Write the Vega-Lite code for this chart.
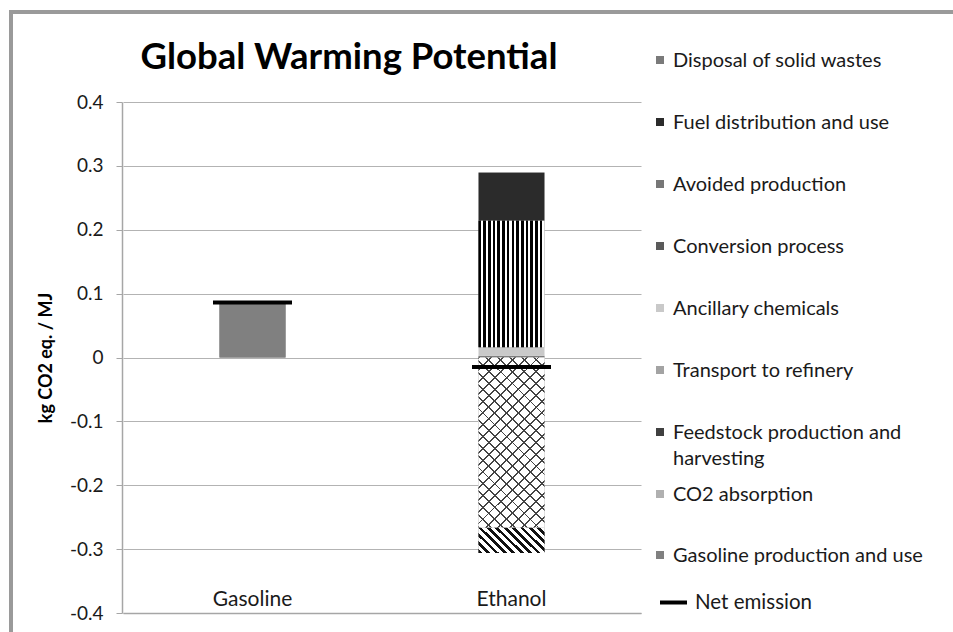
{
  "$schema": "https://vega.github.io/schema/vega-lite/v6.json",
  "width": 942,
  "height": 620,
  "autosize": {"type": "none"},
  "padding": {"left": 11, "top": 12, "right": 0, "bottom": 0},
  "background": "white",
  "config": {
    "view": {"stroke": "#9a9a9a", "strokeWidth": 4, "strokeDash": [942, 1562, 622]},
    "font": "Lato"
  },
  "title": {
    "text": "Global Warming Potential",
    "font": "Lato",
    "fontSize": 36.5,
    "fontWeight": "bold",
    "color": "#000000",
    "anchor": "middle",
    "frame": "group",
    "offset": 0,
    "baseline": "alphabetic",
    "dx": -133,
    "dy": 93
  },
  "resolve": {"scale": {"fill": "independent"}, "legend": {"fill": "independent"}},
  "datasets": {
    "components": [
      {"fuel": "Gasoline", "component": "Gasoline production and use", "value": 0.086, "seq": 0},
      {"fuel": "Ethanol", "component": "CO2 absorption", "value": -0.266, "seq": 1},
      {"fuel": "Ethanol", "component": "Feedstock production and harvesting", "value": 0.002, "seq": 2},
      {"fuel": "Ethanol", "component": "Transport to refinery", "value": 0.001, "seq": 3},
      {"fuel": "Ethanol", "component": "Ancillary chemicals", "value": 0.013, "seq": 4},
      {"fuel": "Ethanol", "component": "Conversion process", "value": 0.198, "seq": 5},
      {"fuel": "Ethanol", "component": "Avoided production", "value": -0.040, "seq": 6},
      {"fuel": "Ethanol", "component": "Fuel distribution and use", "value": 0.075, "seq": 7},
      {"fuel": "Ethanol", "component": "Disposal of solid wastes", "value": 0.001, "seq": 8}
    ],
    "net": [
      {"fuel": "Gasoline", "net": 0.086},
      {"fuel": "Ethanol", "net": -0.015}
    ]
  },
  "layer": [
    {
      "data": {"name": "components"},
      "transform": [
        {"stack": "value", "groupby": ["fuel"], "sort": [{"field": "seq", "order": "ascending"}], "as": ["v0", "v1"]}
      ],
      "mark": {"type": "bar", "width": {"band": 0.255}},
      "encoding": {
        "x": {
          "field": "fuel",
          "type": "nominal",
          "title": null,
          "sort": ["Gasoline", "Ethanol"],
          "scale": {"domain": ["Gasoline", "Ethanol"], "range": [112, 630], "paddingInner": 0, "paddingOuter": 0},
          "axis": {
            "orient": "bottom",
            "offset": -19,
            "domainColor": "#a6a6a6",
            "domainWidth": 1.5,
            "ticks": false,
            "tickSize": 0,
            "labelAngle": 0,
            "labelFont": "Lato",
            "labelFontSize": 21,
            "labelColor": "#1a1a1a",
            "labelBaseline": "alphabetic",
            "labelPadding": -8,
            "grid": false
          }
        },
        "y": {
          "field": "v0",
          "type": "quantitative",
          "title": "kg CO2 eq. / MJ",
          "scale": {"domain": [-0.4, 0.4], "range": [601, 90], "nice": false, "zero": false},
          "axis": {
            "orient": "left",
            "offset": -111,
            "values": [-0.4, -0.3, -0.2, -0.1, 0, 0.1, 0.2, 0.3, 0.4],
            "labelExpr": "datum.value == 0 ? '0' : (datum.value < 0 ? '-' : '') + format(abs(datum.value), '.1f')",
            "labelFont": "Lato",
            "labelFontSize": 19,
            "labelColor": "#1a1a1a",
            "labelPadding": 13,
            "tickSize": 6,
            "tickColor": "#a6a6a6",
            "domainColor": "#a6a6a6",
            "domainWidth": 1.5,
            "grid": true,
            "gridColor": "#b3b3b3",
            "gridWidth": 1.2,
            "titleFont": "Lato",
            "titleFontSize": 18,
            "titleFontWeight": "bold",
            "titleColor": "#000000",
            "titlePadding": 14
          }
        },
        "y2": {"field": "v1"},
        "fill": {
          "field": "component",
          "type": "nominal",
          "scale": {
            "domain": [
              "Disposal of solid wastes",
              "Fuel distribution and use",
              "Avoided production",
              "Conversion process",
              "Ancillary chemicals",
              "Transport to refinery",
              "Feedstock production and harvesting",
              "CO2 absorption",
              "Gasoline production and use"
            ],
            "range": ["#7a7a7a", "#2b2b2b", "#777777", "#5a5a5a", "#c9c9c9", "#a3a3a3", "#404040", "#b0b0b0", "#808080"]
          },
          "legend": {
            "orient": "none",
            "legendX": 639,
            "legendY": 38,
            "title": null,
            "padding": 0,
            "rowPadding": 41,
            "values": [
              "Disposal of solid wastes",
              "Fuel distribution and use",
              "Avoided production",
              "Conversion process",
              "Ancillary chemicals",
              "Transport to refinery",
              "Feedstock production and harvesting"
            ],
            "symbolType": "square",
            "symbolSize": 64,
            "symbolStrokeWidth": 0,
            "symbolOpacity": 1,
            "labelFont": "Lato",
            "labelFontSize": 20,
            "labelColor": "#1a1a1a",
            "labelOffset": 3,
            "labelLimit": 300,
            "labelBaseline": "alphabetic",
            "labelExpr": "datum.label == 'Feedstock production and harvesting' ? ['Feedstock production and', 'harvesting'] : datum.label",
            "encode": {"labels": {"update": {"dy": {"value": 7}, "lineHeight": {"value": 26}}}}
          }
        }
      }
    },
    {
      "data": {"name": "components"},
      "transform": [
        {"stack": "value", "groupby": ["fuel"], "sort": [{"field": "seq", "order": "ascending"}], "as": ["v0", "v1"]},
        {"filter": "datum.component == 'CO2 absorption' || datum.component == 'Gasoline production and use'"}
      ],
      "mark": {"type": "bar", "width": {"band": 0.255}},
      "encoding": {
        "x": {"field": "fuel", "type": "nominal", "title": null},
        "y": {"field": "v0", "type": "quantitative", "title": "kg CO2 eq. / MJ"},
        "y2": {"field": "v1"},
        "fill": {
          "field": "component",
          "type": "nominal",
          "scale": {"domain": ["CO2 absorption", "Gasoline production and use"], "range": ["#b0b0b0", "#808080"]},
          "legend": {
            "orient": "none",
            "legendX": 639,
            "legendY": 472,
            "title": null,
            "padding": 0,
            "rowPadding": 40,
            "symbolType": "square",
            "symbolSize": 64,
            "symbolStrokeWidth": 0,
            "symbolOpacity": 1,
            "labelFont": "Lato",
            "labelFontSize": 20,
            "labelColor": "#1a1a1a",
            "labelOffset": 3,
            "labelLimit": 300,
            "labelBaseline": "alphabetic",
            "encode": {"labels": {"update": {"dy": {"value": 7}}}}
          }
        }
      }
    },
    {
      "data": {"name": "components"},
      "transform": [
        {"stack": "value", "groupby": ["fuel"], "sort": [{"field": "seq", "order": "ascending"}], "as": ["v0", "v1"]},
        {"filter": "datum.component == 'Avoided production'"}
      ],
      "mark": {"type": "bar", "width": {"band": 0.255}, "fill": {"gradient": "linear", "x1": 0, "y1": 1, "x2": 1.2067, "y2": 0.5246, "stops": [
        {"offset": 0, "color": "#111111"}, {"offset": 0.0409, "color": "#111111"}, {"offset": 0.0409, "color": "#ffffff"}, {"offset": 0.0909, "color": "#ffffff"},
        {"offset": 0.0909, "color": "#111111"}, {"offset": 0.1318, "color": "#111111"}, {"offset": 0.1318, "color": "#ffffff"}, {"offset": 0.1818, "color": "#ffffff"},
        {"offset": 0.1818, "color": "#111111"}, {"offset": 0.2227, "color": "#111111"}, {"offset": 0.2227, "color": "#ffffff"}, {"offset": 0.2727, "color": "#ffffff"},
        {"offset": 0.2727, "color": "#111111"}, {"offset": 0.3136, "color": "#111111"}, {"offset": 0.3136, "color": "#ffffff"}, {"offset": 0.3636, "color": "#ffffff"},
        {"offset": 0.3636, "color": "#111111"}, {"offset": 0.4045, "color": "#111111"}, {"offset": 0.4045, "color": "#ffffff"}, {"offset": 0.4545, "color": "#ffffff"},
        {"offset": 0.4545, "color": "#111111"}, {"offset": 0.4955, "color": "#111111"}, {"offset": 0.4955, "color": "#ffffff"}, {"offset": 0.5455, "color": "#ffffff"},
        {"offset": 0.5455, "color": "#111111"}, {"offset": 0.5864, "color": "#111111"}, {"offset": 0.5864, "color": "#ffffff"}, {"offset": 0.6364, "color": "#ffffff"},
        {"offset": 0.6364, "color": "#111111"}, {"offset": 0.6773, "color": "#111111"}, {"offset": 0.6773, "color": "#ffffff"}, {"offset": 0.7273, "color": "#ffffff"},
        {"offset": 0.7273, "color": "#111111"}, {"offset": 0.7682, "color": "#111111"}, {"offset": 0.7682, "color": "#ffffff"}, {"offset": 0.8182, "color": "#ffffff"},
        {"offset": 0.8182, "color": "#111111"}, {"offset": 0.8591, "color": "#111111"}, {"offset": 0.8591, "color": "#ffffff"}, {"offset": 0.9091, "color": "#ffffff"},
        {"offset": 0.9091, "color": "#111111"}, {"offset": 0.95, "color": "#111111"}, {"offset": 0.95, "color": "#ffffff"}, {"offset": 1, "color": "#ffffff"}
      ]}},
      "encoding": {
        "x": {"field": "fuel", "type": "nominal", "title": null},
        "y": {"field": "v0", "type": "quantitative", "title": "kg CO2 eq. / MJ"},
        "y2": {"field": "v1"}
      }
    },
    {
      "data": {"name": "components"},
      "transform": [
        {"stack": "value", "groupby": ["fuel"], "sort": [{"field": "seq", "order": "ascending"}], "as": ["v0", "v1"]},
        {"filter": "datum.component == 'Conversion process'"}
      ],
      "mark": {"type": "bar", "width": {"band": 0.255}, "fill": {"gradient": "linear", "x1": 0, "y1": 0, "x2": 1, "y2": 0, "stops": [
        {"offset": 0, "color": "#000000"}, {"offset": 0.0393, "color": "#000000"}, {"offset": 0.0393, "color": "#ffffff"}, {"offset": 0.0714, "color": "#ffffff"},
        {"offset": 0.0714, "color": "#000000"}, {"offset": 0.1107, "color": "#000000"}, {"offset": 0.1107, "color": "#ffffff"}, {"offset": 0.1429, "color": "#ffffff"},
        {"offset": 0.1429, "color": "#000000"}, {"offset": 0.1821, "color": "#000000"}, {"offset": 0.1821, "color": "#ffffff"}, {"offset": 0.2143, "color": "#ffffff"},
        {"offset": 0.2143, "color": "#000000"}, {"offset": 0.2536, "color": "#000000"}, {"offset": 0.2536, "color": "#ffffff"}, {"offset": 0.2857, "color": "#ffffff"},
        {"offset": 0.2857, "color": "#000000"}, {"offset": 0.325, "color": "#000000"}, {"offset": 0.325, "color": "#ffffff"}, {"offset": 0.3571, "color": "#ffffff"},
        {"offset": 0.3571, "color": "#000000"}, {"offset": 0.3964, "color": "#000000"}, {"offset": 0.3964, "color": "#ffffff"}, {"offset": 0.4286, "color": "#ffffff"},
        {"offset": 0.4286, "color": "#000000"}, {"offset": 0.4679, "color": "#000000"}, {"offset": 0.4679, "color": "#ffffff"}, {"offset": 0.5, "color": "#ffffff"},
        {"offset": 0.5, "color": "#000000"}, {"offset": 0.5393, "color": "#000000"}, {"offset": 0.5393, "color": "#ffffff"}, {"offset": 0.5714, "color": "#ffffff"},
        {"offset": 0.5714, "color": "#000000"}, {"offset": 0.6107, "color": "#000000"}, {"offset": 0.6107, "color": "#ffffff"}, {"offset": 0.6429, "color": "#ffffff"},
        {"offset": 0.6429, "color": "#000000"}, {"offset": 0.6821, "color": "#000000"}, {"offset": 0.6821, "color": "#ffffff"}, {"offset": 0.7143, "color": "#ffffff"},
        {"offset": 0.7143, "color": "#000000"}, {"offset": 0.7536, "color": "#000000"}, {"offset": 0.7536, "color": "#ffffff"}, {"offset": 0.7857, "color": "#ffffff"},
        {"offset": 0.7857, "color": "#000000"}, {"offset": 0.825, "color": "#000000"}, {"offset": 0.825, "color": "#ffffff"}, {"offset": 0.8571, "color": "#ffffff"},
        {"offset": 0.8571, "color": "#000000"}, {"offset": 0.8964, "color": "#000000"}, {"offset": 0.8964, "color": "#ffffff"}, {"offset": 0.9286, "color": "#ffffff"},
        {"offset": 0.9286, "color": "#000000"}, {"offset": 0.9679, "color": "#000000"}, {"offset": 0.9679, "color": "#ffffff"}, {"offset": 1, "color": "#ffffff"}
      ]}},
      "encoding": {
        "x": {"field": "fuel", "type": "nominal", "title": null},
        "y": {"field": "v0", "type": "quantitative", "title": "kg CO2 eq. / MJ"},
        "y2": {"field": "v1"}
      }
    },
    {
      "data": {"name": "components"},
      "transform": [
        {"stack": "value", "groupby": ["fuel"], "sort": [{"field": "seq", "order": "ascending"}], "as": ["v0", "v1"]},
        {"filter": "datum.component == 'CO2 absorption'"}
      ],
      "mark": {"type": "bar", "width": {"band": 0.255}, "fill": {"gradient": "linear", "x1": 0, "y1": 0, "x2": 0.4684, "y2": 1.2064, "stops": [
        {"offset": 0, "color": "#444444"}, {"offset": 0.008, "color": "#444444"}, {"offset": 0.008, "color": "#ffffff"}, {"offset": 0.05, "color": "#ffffff"},
        {"offset": 0.05, "color": "#444444"}, {"offset": 0.058, "color": "#444444"}, {"offset": 0.058, "color": "#ffffff"}, {"offset": 0.1, "color": "#ffffff"},
        {"offset": 0.1, "color": "#444444"}, {"offset": 0.108, "color": "#444444"}, {"offset": 0.108, "color": "#ffffff"}, {"offset": 0.15, "color": "#ffffff"},
        {"offset": 0.15, "color": "#444444"}, {"offset": 0.158, "color": "#444444"}, {"offset": 0.158, "color": "#ffffff"}, {"offset": 0.2, "color": "#ffffff"},
        {"offset": 0.2, "color": "#444444"}, {"offset": 0.208, "color": "#444444"}, {"offset": 0.208, "color": "#ffffff"}, {"offset": 0.25, "color": "#ffffff"},
        {"offset": 0.25, "color": "#444444"}, {"offset": 0.258, "color": "#444444"}, {"offset": 0.258, "color": "#ffffff"}, {"offset": 0.3, "color": "#ffffff"},
        {"offset": 0.3, "color": "#444444"}, {"offset": 0.308, "color": "#444444"}, {"offset": 0.308, "color": "#ffffff"}, {"offset": 0.35, "color": "#ffffff"},
        {"offset": 0.35, "color": "#444444"}, {"offset": 0.358, "color": "#444444"}, {"offset": 0.358, "color": "#ffffff"}, {"offset": 0.4, "color": "#ffffff"},
        {"offset": 0.4, "color": "#444444"}, {"offset": 0.408, "color": "#444444"}, {"offset": 0.408, "color": "#ffffff"}, {"offset": 0.45, "color": "#ffffff"},
        {"offset": 0.45, "color": "#444444"}, {"offset": 0.458, "color": "#444444"}, {"offset": 0.458, "color": "#ffffff"}, {"offset": 0.5, "color": "#ffffff"},
        {"offset": 0.5, "color": "#444444"}, {"offset": 0.508, "color": "#444444"}, {"offset": 0.508, "color": "#ffffff"}, {"offset": 0.55, "color": "#ffffff"},
        {"offset": 0.55, "color": "#444444"}, {"offset": 0.558, "color": "#444444"}, {"offset": 0.558, "color": "#ffffff"}, {"offset": 0.6, "color": "#ffffff"},
        {"offset": 0.6, "color": "#444444"}, {"offset": 0.608, "color": "#444444"}, {"offset": 0.608, "color": "#ffffff"}, {"offset": 0.65, "color": "#ffffff"},
        {"offset": 0.65, "color": "#444444"}, {"offset": 0.658, "color": "#444444"}, {"offset": 0.658, "color": "#ffffff"}, {"offset": 0.7, "color": "#ffffff"},
        {"offset": 0.7, "color": "#444444"}, {"offset": 0.708, "color": "#444444"}, {"offset": 0.708, "color": "#ffffff"}, {"offset": 0.75, "color": "#ffffff"},
        {"offset": 0.75, "color": "#444444"}, {"offset": 0.758, "color": "#444444"}, {"offset": 0.758, "color": "#ffffff"}, {"offset": 0.8, "color": "#ffffff"},
        {"offset": 0.8, "color": "#444444"}, {"offset": 0.808, "color": "#444444"}, {"offset": 0.808, "color": "#ffffff"}, {"offset": 0.85, "color": "#ffffff"},
        {"offset": 0.85, "color": "#444444"}, {"offset": 0.858, "color": "#444444"}, {"offset": 0.858, "color": "#ffffff"}, {"offset": 0.9, "color": "#ffffff"},
        {"offset": 0.9, "color": "#444444"}, {"offset": 0.908, "color": "#444444"}, {"offset": 0.908, "color": "#ffffff"}, {"offset": 0.95, "color": "#ffffff"},
        {"offset": 0.95, "color": "#444444"}, {"offset": 0.958, "color": "#444444"}, {"offset": 0.958, "color": "#ffffff"}, {"offset": 1, "color": "#ffffff"}
      ]}},
      "encoding": {
        "x": {"field": "fuel", "type": "nominal", "title": null},
        "y": {"field": "v0", "type": "quantitative", "title": "kg CO2 eq. / MJ"},
        "y2": {"field": "v1"}
      }
    },
    {
      "data": {"name": "components"},
      "transform": [
        {"stack": "value", "groupby": ["fuel"], "sort": [{"field": "seq", "order": "ascending"}], "as": ["v0", "v1"]},
        {"filter": "datum.component == 'CO2 absorption'"}
      ],
      "mark": {"type": "bar", "width": {"band": 0.255}, "fill": {"gradient": "linear", "x1": 0, "y1": 1, "x2": 0.4684, "y2": -0.2064, "stops": [
        {"offset": 0, "color": "#444444"}, {"offset": 0.008, "color": "#444444"}, {"offset": 0.008, "color": "rgba(255,255,255,0)"}, {"offset": 0.05, "color": "rgba(255,255,255,0)"},
        {"offset": 0.05, "color": "#444444"}, {"offset": 0.058, "color": "#444444"}, {"offset": 0.058, "color": "rgba(255,255,255,0)"}, {"offset": 0.1, "color": "rgba(255,255,255,0)"},
        {"offset": 0.1, "color": "#444444"}, {"offset": 0.108, "color": "#444444"}, {"offset": 0.108, "color": "rgba(255,255,255,0)"}, {"offset": 0.15, "color": "rgba(255,255,255,0)"},
        {"offset": 0.15, "color": "#444444"}, {"offset": 0.158, "color": "#444444"}, {"offset": 0.158, "color": "rgba(255,255,255,0)"}, {"offset": 0.2, "color": "rgba(255,255,255,0)"},
        {"offset": 0.2, "color": "#444444"}, {"offset": 0.208, "color": "#444444"}, {"offset": 0.208, "color": "rgba(255,255,255,0)"}, {"offset": 0.25, "color": "rgba(255,255,255,0)"},
        {"offset": 0.25, "color": "#444444"}, {"offset": 0.258, "color": "#444444"}, {"offset": 0.258, "color": "rgba(255,255,255,0)"}, {"offset": 0.3, "color": "rgba(255,255,255,0)"},
        {"offset": 0.3, "color": "#444444"}, {"offset": 0.308, "color": "#444444"}, {"offset": 0.308, "color": "rgba(255,255,255,0)"}, {"offset": 0.35, "color": "rgba(255,255,255,0)"},
        {"offset": 0.35, "color": "#444444"}, {"offset": 0.358, "color": "#444444"}, {"offset": 0.358, "color": "rgba(255,255,255,0)"}, {"offset": 0.4, "color": "rgba(255,255,255,0)"},
        {"offset": 0.4, "color": "#444444"}, {"offset": 0.408, "color": "#444444"}, {"offset": 0.408, "color": "rgba(255,255,255,0)"}, {"offset": 0.45, "color": "rgba(255,255,255,0)"},
        {"offset": 0.45, "color": "#444444"}, {"offset": 0.458, "color": "#444444"}, {"offset": 0.458, "color": "rgba(255,255,255,0)"}, {"offset": 0.5, "color": "rgba(255,255,255,0)"},
        {"offset": 0.5, "color": "#444444"}, {"offset": 0.508, "color": "#444444"}, {"offset": 0.508, "color": "rgba(255,255,255,0)"}, {"offset": 0.55, "color": "rgba(255,255,255,0)"},
        {"offset": 0.55, "color": "#444444"}, {"offset": 0.558, "color": "#444444"}, {"offset": 0.558, "color": "rgba(255,255,255,0)"}, {"offset": 0.6, "color": "rgba(255,255,255,0)"},
        {"offset": 0.6, "color": "#444444"}, {"offset": 0.608, "color": "#444444"}, {"offset": 0.608, "color": "rgba(255,255,255,0)"}, {"offset": 0.65, "color": "rgba(255,255,255,0)"},
        {"offset": 0.65, "color": "#444444"}, {"offset": 0.658, "color": "#444444"}, {"offset": 0.658, "color": "rgba(255,255,255,0)"}, {"offset": 0.7, "color": "rgba(255,255,255,0)"},
        {"offset": 0.7, "color": "#444444"}, {"offset": 0.708, "color": "#444444"}, {"offset": 0.708, "color": "rgba(255,255,255,0)"}, {"offset": 0.75, "color": "rgba(255,255,255,0)"},
        {"offset": 0.75, "color": "#444444"}, {"offset": 0.758, "color": "#444444"}, {"offset": 0.758, "color": "rgba(255,255,255,0)"}, {"offset": 0.8, "color": "rgba(255,255,255,0)"},
        {"offset": 0.8, "color": "#444444"}, {"offset": 0.808, "color": "#444444"}, {"offset": 0.808, "color": "rgba(255,255,255,0)"}, {"offset": 0.85, "color": "rgba(255,255,255,0)"},
        {"offset": 0.85, "color": "#444444"}, {"offset": 0.858, "color": "#444444"}, {"offset": 0.858, "color": "rgba(255,255,255,0)"}, {"offset": 0.9, "color": "rgba(255,255,255,0)"},
        {"offset": 0.9, "color": "#444444"}, {"offset": 0.908, "color": "#444444"}, {"offset": 0.908, "color": "rgba(255,255,255,0)"}, {"offset": 0.95, "color": "rgba(255,255,255,0)"},
        {"offset": 0.95, "color": "#444444"}, {"offset": 0.958, "color": "#444444"}, {"offset": 0.958, "color": "rgba(255,255,255,0)"}, {"offset": 1, "color": "rgba(255,255,255,0)"}
      ]}},
      "encoding": {
        "x": {"field": "fuel", "type": "nominal", "title": null},
        "y": {"field": "v0", "type": "quantitative", "title": "kg CO2 eq. / MJ"},
        "y2": {"field": "v1"}
      }
    },
    {
      "data": {"name": "net"},
      "mark": {"type": "tick", "thickness": 4, "size": 79, "opacity": 1},
      "encoding": {
        "x": {"field": "fuel", "type": "nominal", "title": null},
        "y": {"field": "net", "type": "quantitative", "title": "kg CO2 eq. / MJ"},
        "color": {
          "datum": "Net emission",
          "type": "nominal",
          "scale": {"range": ["#000000"]},
          "legend": {
            "orient": "none",
            "legendX": 647,
            "legendY": 575,
            "title": null,
            "padding": 0,
            "symbolType": "stroke",
            "symbolSize": 729,
            "symbolStrokeWidth": 4,
            "symbolStrokeColor": "#000000",
            "symbolOpacity": 1,
            "labelFont": "Lato",
            "labelFontSize": 20.5,
            "labelColor": "#1a1a1a",
            "labelOffset": 6
          }
        }
      }
    }
  ]
}
